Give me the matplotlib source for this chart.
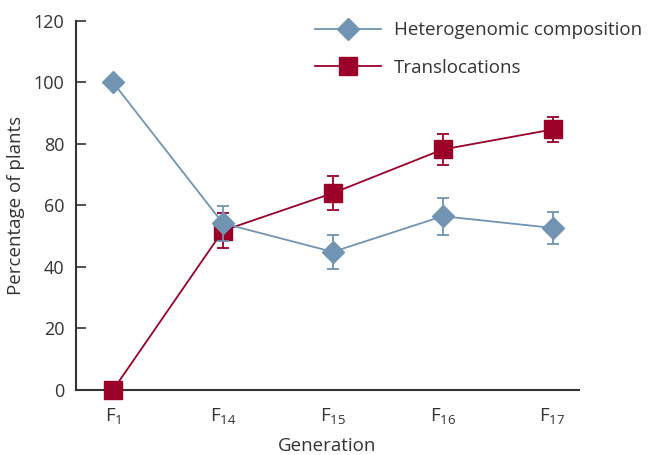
import numpy as np
import matplotlib
matplotlib.use("Agg")
import matplotlib.pyplot as plt

plt.rcParams['font.family'] = ['Open Sans', 'DejaVu Sans']
plt.rcParams['mathtext.fontset'] = 'custom'
plt.rcParams['mathtext.rm'] = 'Open Sans'

# data
generations = ['F$_{1}$', 'F$_{14}$', 'F$_{15}$', 'F$_{16}$', 'F$_{17}$']
hetero = [100, 54.2, 44.9, 56.5, 52.7]
hetero_err = [0, 5.7, 5.5, 6.0, 5.2]
transloc = [0, 51.8, 64.0, 78.2, 84.7]
transloc_err = [0, 5.6, 5.6, 4.9, 4.2]

blue = '#7094b2'
red = '#9b0029'
dark = '#333333'

fig = plt.figure(figsize=(6.49, 4.55), dpi=100)
ax = fig.add_axes([0.1166, 0.1429, 0.892 - 0.1166, 0.954 - 0.1429])

x = np.arange(len(generations))

# translocations (drawn first, hetero sits on top at F14)
ax.errorbar(x[1:], transloc[1:], yerr=transloc_err[1:], fmt='none',
            ecolor=red, elinewidth=1.3, capsize=4, capthick=1.3, zorder=2)
ax.plot(x, transloc, color=red, lw=1.3, marker='s', ms=12.5,
        mfc=red, mec=red, label='Translocations', zorder=3, clip_on=False)

ax.errorbar(x[1:], hetero[1:], yerr=hetero_err[1:], fmt='none',
            ecolor=blue, elinewidth=1.3, capsize=4, capthick=1.3, zorder=4)
ax.plot(x, hetero, color=blue, lw=1.3, marker='D', ms=11,
        mfc=blue, mec=blue, label='Heterogenomic composition', zorder=5, clip_on=False)

ax.set_xlim(-0.34, 4.24)
ax.set_ylim(0, 120)
ax.set_yticks(np.arange(0, 121, 20))
ax.set_xticks(x)
ax.set_xticklabels(generations)

for s in ['top', 'right']:
    ax.spines[s].set_visible(False)
for s in ['left', 'bottom']:
    ax.spines[s].set_linewidth(1.5)
    ax.spines[s].set_color(dark)

ax.tick_params(axis='y', direction='in', length=7, width=1.2, color=dark,
               labelsize=13, labelcolor=dark, pad=8)
ax.tick_params(axis='x', length=0, labelsize=13.5, labelcolor=dark, pad=12)

ax.set_xlabel('Generation', fontsize=13.5, color=dark, labelpad=7)
ax.set_ylabel('Percentage of plants', fontsize=13.5, color=dark, labelpad=6)

handles, labels = ax.get_legend_handles_labels()
leg = ax.legend(handles[::-1], labels[::-1], loc='upper left',
                bbox_to_anchor=(0.442, 1.045), frameon=False, fontsize=13.5,
                handlelength=3.5, handletextpad=0.7, labelspacing=1.05,
                labelcolor=dark)

fig.savefig('out.png', dpi=100)
